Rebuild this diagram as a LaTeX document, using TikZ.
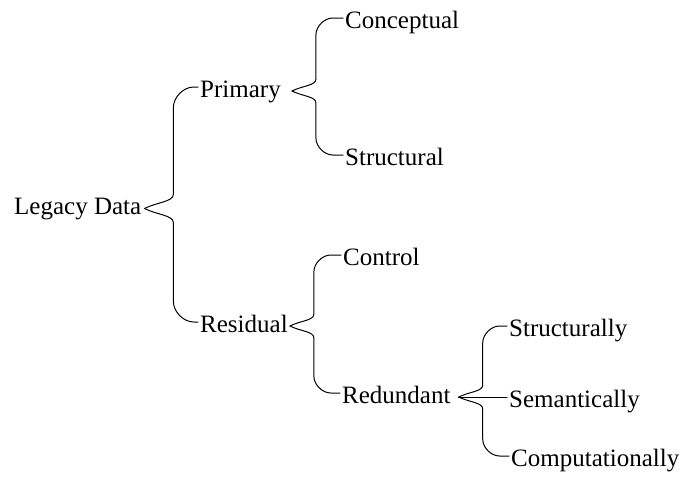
\documentclass[tikz,border=0pt]{standalone}
\usepackage{fontspec}
\setmainfont{Liberation Serif}
\usetikzlibrary{calc}

\tikzset{
  term/.style={inner sep=0pt, font=\fontsize{25}{30}\selectfont},
  bracket/.style={line width=1pt, line join=round, line cap=round},
  % one arm of a curly bracket: from the tip, bend to a vertical stem
  % #1 pt to the right, run along it, then round off into the child
  branch/.style={to path={
    let \p1=(\tikztostart), \p2=(\tikztotarget),
        \n1={sign(\y2-\y1)}, \n2={#1}, \n3={0.7*#1}, \n4={0.5*#1}
    in .. controls (\x1+0.45*\n2, \y1+0.45*\n4*\n1) and (\x1+\n2, \y1+0.45*\n4*\n1)
       .. (\x1+\n2, \y1+\n4*\n1)
    -- (\x1+\n2, \y2-\n3*\n1)
    .. controls (\x1+\n2, \y2-0.5*\n3*\n1) and (\x1+\n2+0.5*\n3, \y2)
       .. (\x1+\n2+\n3, \y2)
    -- (\x2,\y2)
  }}
}

\begin{document}
\begin{tikzpicture}[x=1pt,y=-1pt]
\useasboundingbox (0,0) rectangle (680,479);

% terms, placed by their baselines
\node[term, anchor=base west] (ld)  at (14,214.5) {Legacy Data};
\node[term, anchor=base west] (pri) at (200,97)  {Primary};
\node[term, anchor=base west] (res) at (200,332) {Residual};
\node[term, anchor=base west] (con) at (345,28)  {Conceptual};
\node[term, anchor=base west] (str) at (345,165) {Structural};
\node[term, anchor=base west] (ctl) at (343,265) {Control};
\node[term, anchor=base west] (red) at (342,403) {Redundant};
\node[term, anchor=base west] (sly) at (509,336) {Structurally};
\node[term, anchor=base west] (sem) at (509,407) {Semantically};
\node[term, anchor=base west] (cmp) at (511,466) {Computationally};

% where the brackets leave a parent and reach a child
\coordinate (ld-out)  at ([shift={(3pt,6pt)}]ld.base east);
\coordinate (pri-out) at ([shift={(11pt,6pt)}]pri.base east);
\coordinate (res-out) at ([shift={(2pt,6pt)}]res.base east);
\coordinate (red-out) at ([shift={(8pt,6pt)}]red.base east);

\coordinate (pri-in) at ([shift={(-2pt,10pt)}]pri.base west);
\coordinate (res-in) at ([shift={(-2pt,10pt)}]res.base west);
\coordinate (con-in) at ([shift={(-2pt,10pt)}]con.base west);
\coordinate (str-in) at ([shift={(-2pt,10pt)}]str.base west);
\coordinate (ctl-in) at ([shift={(-2pt,10pt)}]ctl.base west);
\coordinate (red-in) at ([shift={(-2pt,10pt)}]red.base west);
\coordinate (sly-in) at ([shift={(-2pt,10pt)}]sly.base west);
\coordinate (sem-in) at ([shift={(-2pt,10pt)}]sem.base west);
\coordinate (cmp-in) at ([shift={(-2pt,10pt)}]cmp.base west);

% brackets
\draw[bracket] (ld-out) to[branch=29] (pri-in);
\draw[bracket] (ld-out) to[branch=29] (res-in);

\draw[bracket] (pri-out) to[branch=24] (con-in);
\draw[bracket] (pri-out) to[branch=24] (str-in);

\draw[bracket] (res-out) to[branch=24] (ctl-in);
\draw[bracket] (res-out) to[branch=24] (red-in);

\draw[bracket] (red-out) to[branch=24] (sly-in);
\draw[bracket] (red-out) -- (sem-in);
\draw[bracket] (red-out) to[branch=24] (cmp-in);
\end{tikzpicture}
\end{document}
